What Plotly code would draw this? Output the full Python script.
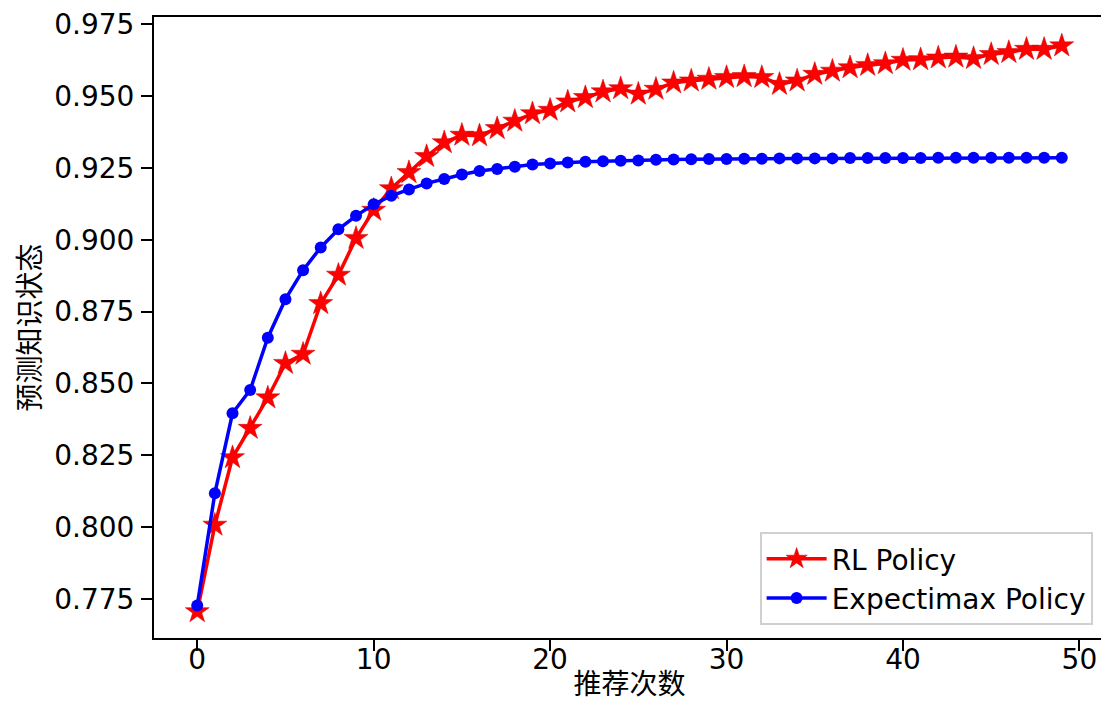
import plotly.graph_objects as go

steps = list(range(50))
rl_policy = [0.7706, 0.8007, 0.8242, 0.8344, 0.8450, 0.8570, 0.8602, 0.8778, 0.8877, 0.9005,
             0.9103, 0.9178, 0.9234, 0.9290, 0.9338, 0.9364, 0.9362, 0.9387, 0.9413, 0.9439,
             0.9451, 0.9480, 0.9495, 0.9515, 0.9526, 0.9507, 0.9524, 0.9546, 0.9553, 0.9559,
             0.9565, 0.9568, 0.9565, 0.9541, 0.9553, 0.9576, 0.9587, 0.9599, 0.9607, 0.9613,
             0.9625, 0.9627, 0.9633, 0.9636, 0.9631, 0.9645, 0.9652, 0.9663, 0.9663, 0.9675]
expectimax = [0.7727, 0.8118, 0.8396, 0.8477, 0.8659, 0.8793, 0.8894, 0.8973, 0.9036, 0.9083,
              0.9123, 0.9153, 0.9175, 0.9196, 0.9211, 0.9227, 0.9239, 0.9246, 0.9254, 0.9262,
              0.9265, 0.9269, 0.9271, 0.9273, 0.9275, 0.9276, 0.9278, 0.9279, 0.9280, 0.9281,
              0.9281, 0.9282, 0.9282, 0.9283, 0.9283, 0.9283, 0.9283, 0.9284, 0.9284, 0.9284,
              0.9284, 0.9284, 0.9285, 0.9285, 0.9285, 0.9285, 0.9285, 0.9285, 0.9285, 0.9285]
y_ticks = [0.775, 0.800, 0.825, 0.850, 0.875, 0.900, 0.925, 0.950, 0.975]
x_ticks = [0, 10, 20, 30, 40, 50]

font_lat = "DejaVu Sans"
font_cjk = "Noto Sans CJK SC"

fig = go.Figure()
fig.add_trace(go.Scatter(
    x=steps, y=rl_policy, mode="lines+markers", name="RL Policy",
    line=dict(color="#ff0000", width=3.5),
    marker=dict(symbol="star", size=18, color="#ff0000",
                line=dict(color="#cc0000", width=0.5)),
))
fig.add_trace(go.Scatter(
    x=steps, y=expectimax, mode="lines+markers", name="Expectimax Policy",
    line=dict(color="#0000ff", width=3.5),
    marker=dict(symbol="circle", size=12, color="#0000ff"),
))

axis_common = dict(
    showgrid=False, zeroline=False, showline=True, linecolor="black", linewidth=2,
    mirror=True, ticks="outside", ticklen=11, tickwidth=2, tickcolor="black",
    tickfont=dict(family=font_lat, size=28, color="black"),
    ticklabeloverflow="allow",
)

fig.update_layout(
    width=1101, height=714,
    margin=dict(l=146, r=4, t=9, b=84, autoexpand=False),
    paper_bgcolor="white", plot_bgcolor="white",
    showlegend=True,
    legend=dict(
        x=0.987, y=0.021, xanchor="right", yanchor="bottom",
        bgcolor="rgba(255,255,255,0.8)", bordercolor="#d0d0d0", borderwidth=2,
        font=dict(family=font_lat, size=28, color="black"),
        itemwidth=60, tracegroupgap=0,
    ),
    xaxis=dict(
        range=[-2.45, 51.45], tickvals=x_ticks, ticktext=[str(v) for v in x_ticks],
        title=dict(text="推荐次数", font=dict(family=font_cjk, size=28, color="black"), standoff=0),
        ticklabelstandoff=-16,
        **axis_common,
    ),
    yaxis=dict(
        range=[0.7614, 0.9775], tickvals=y_ticks, ticktext=[f"{v:.3f}" for v in y_ticks],
        title=dict(text="预测知识状态", font=dict(family=font_cjk, size=28, color="black"), standoff=10),
        ticklabelstandoff=1,
        **axis_common,
    ),
)

fig.write_html("out.html")
